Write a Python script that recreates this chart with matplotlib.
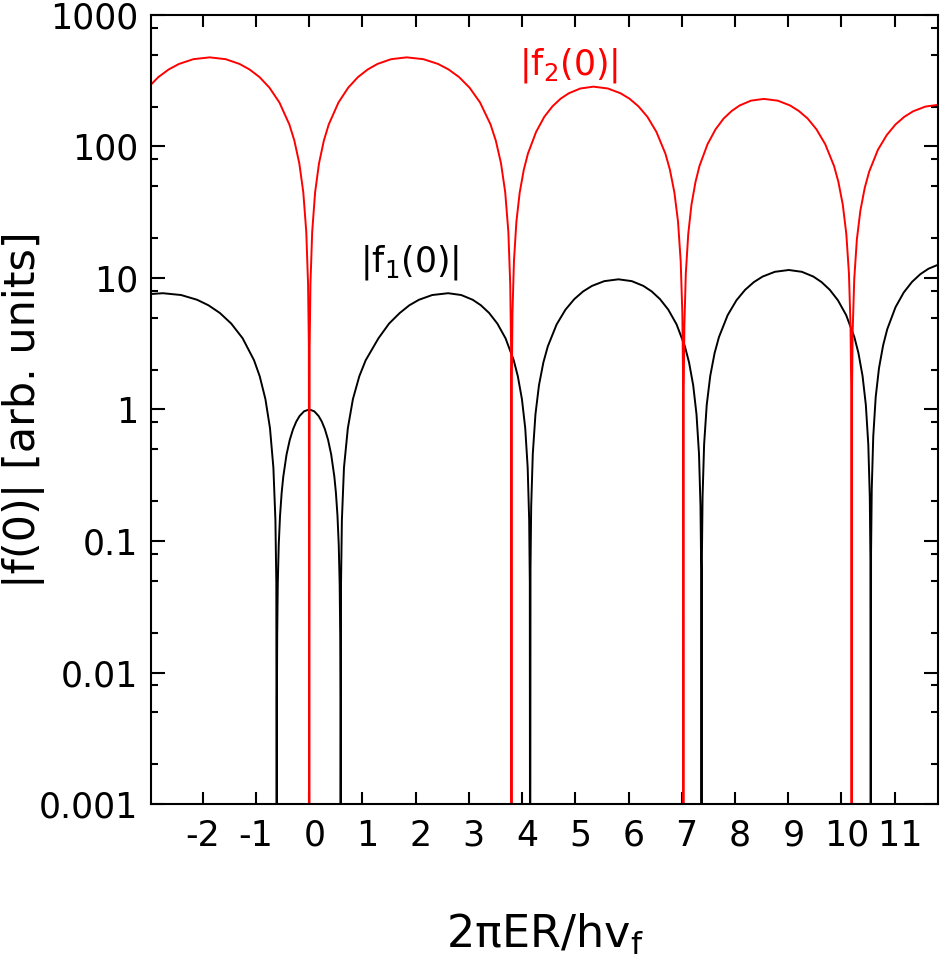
import matplotlib
matplotlib.use("Agg")
import matplotlib.pyplot as plt
from matplotlib.ticker import LogLocator, NullFormatter

# |f1(0)| (black), hump by hump; 1e-5 marks the zeros (below the axis)
f1_x = [-2.98, -2.75, -2.408, -2.108, -1.894, -1.68, -1.466, -1.252, -1.038, -0.931, -0.824,
        -0.738, -0.674, -0.636, -0.619, -0.61,
        -0.6076, -0.6027, -0.5917, -0.5734, -0.549, -0.5185, -0.488, -0.427, -0.366, -0.305,
        -0.244, -0.183, -0.0976, 0.0, 0.0942, 0.1767, 0.2356, 0.2945, 0.3534, 0.4123, 0.4712,
        0.5007, 0.530, 0.5537, 0.5713, 0.5819, 0.5866, 0.589,
        0.597, 0.613, 0.652, 0.725, 0.82, 0.94, 1.06, 1.30, 1.50, 1.70, 1.88, 2.06,
        2.31, 2.61, 2.856, 3.072, 3.226, 3.38, 3.534, 3.688, 3.842, 3.919, 3.996, 4.058,
        4.104, 4.132, 4.144, 4.15,
        4.157, 4.170, 4.200, 4.250, 4.316, 4.399, 4.482, 4.648, 4.814, 4.98, 5.146, 5.312,
        5.544, 5.81, 6.060, 6.278, 6.434, 6.59, 6.746, 6.902, 7.058, 7.136, 7.214, 7.276,
        7.323, 7.351, 7.364, 7.37,
        7.377, 7.390, 7.419, 7.468, 7.534, 7.616, 7.698, 7.862, 8.026, 8.19, 8.354, 8.518,
        8.748, 9.01, 9.256, 9.472, 9.626, 9.78, 9.934, 10.088, 10.242, 10.319, 10.396, 10.458,
        10.504, 10.532, 10.544, 10.55,
        10.556, 10.569, 10.597, 10.643, 10.705, 10.783, 10.86, 11.015, 11.17, 11.325, 11.48,
        11.635, 11.852]
f1_y = [7.55, 7.66, 7.42, 6.83, 6.20, 5.42, 4.50, 3.48, 2.37, 1.79, 1.20,
        0.721, 0.361, 0.144, 0.0481, 1e-5,
        0.00628, 0.01885, 0.0471, 0.0941, 0.156, 0.233, 0.309, 0.454, 0.588, 0.707,
        0.809, 0.891, 0.969, 1.0, 0.969, 0.891, 0.809, 0.707, 0.588, 0.454, 0.309,
        0.233, 0.156, 0.0941, 0.0471, 0.01885, 0.00628, 1e-5,
        0.0481, 0.144, 0.361, 0.721, 1.198, 1.788, 2.367, 3.478, 4.502, 5.416, 6.197, 6.825,
        7.419, 7.66, 7.419, 6.825, 6.197, 5.416, 4.502, 3.478, 2.367, 1.788, 1.198, 0.721,
        0.361, 0.144, 0.0481, 1e-5,
        0.0614, 0.184, 0.460, 0.919, 1.528, 2.280, 3.019, 4.436, 5.743, 6.908, 7.904, 8.705,
        9.463, 9.77, 9.463, 8.705, 7.904, 6.908, 5.743, 4.436, 3.019, 2.280, 1.528, 0.919,
        0.460, 0.184, 0.0614, 1e-5,
        0.0722, 0.217, 0.542, 1.082, 1.799, 2.684, 3.554, 5.221, 6.760, 8.132, 9.304, 10.25,
        11.14, 11.5, 11.14, 10.25, 9.304, 8.132, 6.760, 5.221, 3.554, 2.684, 1.799, 1.082,
        0.542, 0.217, 0.0722, 1e-5,
        0.0829, 0.249, 0.622, 1.242, 2.064, 3.081, 4.079, 5.993, 7.759, 9.334, 10.68,
        11.76, 12.79]

# |f2(0)| (red)
f2_x = [-2.98, -2.835, -2.642, -2.449, -2.179, -1.87, -1.571, -1.309, -1.122, -0.935, -0.748,
        -0.561, -0.374, -0.2805, -0.187, -0.1122, -0.0561, -0.0224, -0.0075, 0.0,
        0.0073, 0.0220, 0.0549, 0.1098, 0.183, 0.2745, 0.366, 0.549, 0.732, 0.915, 1.098,
        1.281, 1.537, 1.83, 2.145, 2.421, 2.618, 2.815, 3.012, 3.209, 3.406, 3.5045, 3.603,
        3.682, 3.741, 3.776, 3.792, 3.80,
        3.806, 3.818, 3.846, 3.892, 3.954, 4.031, 4.108, 4.262, 4.416, 4.570, 4.724, 4.878,
        5.094, 5.34, 5.610, 5.847, 6.016, 6.185, 6.354, 6.523, 6.692, 6.7765, 6.861, 6.929,
        6.979, 7.010, 7.023, 7.03,
        7.036, 7.048, 7.075, 7.121, 7.181, 7.257, 7.332, 7.483, 7.634, 7.785, 7.936, 8.087,
        8.298, 8.54, 8.804, 9.035, 9.200, 9.365, 9.530, 9.695, 9.860, 9.9425, 10.025, 10.091,
        10.1405, 10.170, 10.183, 10.19,
        10.197, 10.210, 10.240, 10.289, 10.355, 10.4375, 10.52, 10.685, 10.85, 11.015, 11.18,
        11.345, 11.576, 11.84]
f2_y = [294, 337, 385, 424, 461, 476, 461, 424, 385, 337, 280,
        216, 147, 111, 74.4, 44.8, 22.4, 8.97, 2.99, 1e-5,
        2.99, 8.97, 22.4, 44.8, 74.4, 111, 147, 216, 280, 337, 385,
        424, 461, 476, 461, 424, 385, 337, 280, 216, 147, 111, 74.4,
        44.8, 22.4, 8.97, 2.99, 1e-5,
        1.79, 5.37, 13.4, 26.8, 44.6, 66.5, 88.1, 129, 168, 202, 231, 254,
        276, 285, 276, 254, 231, 202, 168, 129, 88.1, 66.5, 44.6, 26.8,
        13.4, 5.37, 1.79, 1e-5,
        1.44, 4.34, 10.8, 21.6, 36.0, 53.7, 71.1, 104, 135, 163, 186, 205,
        223, 230, 223, 205, 186, 163, 135, 104, 71.1, 53.7, 36.0, 21.6,
        10.8, 4.34, 1.44, 1e-5,
        1.31, 3.92, 9.80, 19.6, 32.5, 48.5, 64.3, 94.4, 122, 147, 168,
        185, 201, 208]

x_ticks = [-2, -1, 0, 1, 2, 3, 4, 5, 6, 7, 8, 9, 10, 11]
x_ticklabels = ["-2", "-1", " 0", " 1", " 2", " 3", " 4", " 5", " 6", " 7", " 8", " 9", " 10", " 11"]
y_ticks = [1e-3, 1e-2, 1e-1, 1, 10, 100, 1000]
y_ticklabels = ["0.001", "0.01", "0.1", "1", "10", "100", "1000"]

plt.rcParams['font.family'] = 'DejaVu Sans'
plt.rcParams['mathtext.default'] = 'regular'

fig = plt.figure(figsize=(9.44, 9.59), dpi=100)
ax = fig.add_axes([0.1596, 0.1616, 0.8344, 0.8228])

ax.plot(f1_x, f1_y, color='black', lw=1.4)
ax.plot(f2_x, f2_y, color='#ff0000', lw=1.4)

ax.set_yscale('log')
ax.set_xlim(-2.98, 11.82)
ax.set_ylim(1e-3, 1e3)

ax.set_xticks(x_ticks)
ax.set_xticklabels(x_ticklabels)
ax.set_yticks(y_ticks)
ax.set_yticklabels(y_ticklabels)
ax.yaxis.set_minor_locator(LogLocator(base=10, subs=(2, 5, 8)))
ax.yaxis.set_minor_formatter(NullFormatter())

ax.tick_params(which='both', direction='in', top=True, right=True, width=1.5)
ax.tick_params(axis='y', which='major', length=10, labelsize=25, pad=9)
ax.tick_params(axis='y', which='minor', length=5)
ax.tick_params(axis='x', which='major', length=8.6, labelsize=25, pad=10.5)
for s in ax.spines.values():
    s.set_linewidth(1.5)

ax.set_xlabel('2πER/hv$_\\mathregular{f}$', fontsize=32)
ax.xaxis.set_label_coords(0.5, -0.137)
ax.set_ylabel('|f(0)| [arb. units]', fontsize=31)
ax.yaxis.set_label_coords(-0.134, 0.5)

ax.text(1.89, 13.2, '|f$_\\mathregular{1}$(0)|', fontsize=25, color='black',
        ha='center', va='center')
ax.text(4.88, 413, '|f$_\\mathregular{2}$(0)|', fontsize=25, color='#ff0000',
        ha='center', va='center')

fig.savefig('out.png', dpi=100)
